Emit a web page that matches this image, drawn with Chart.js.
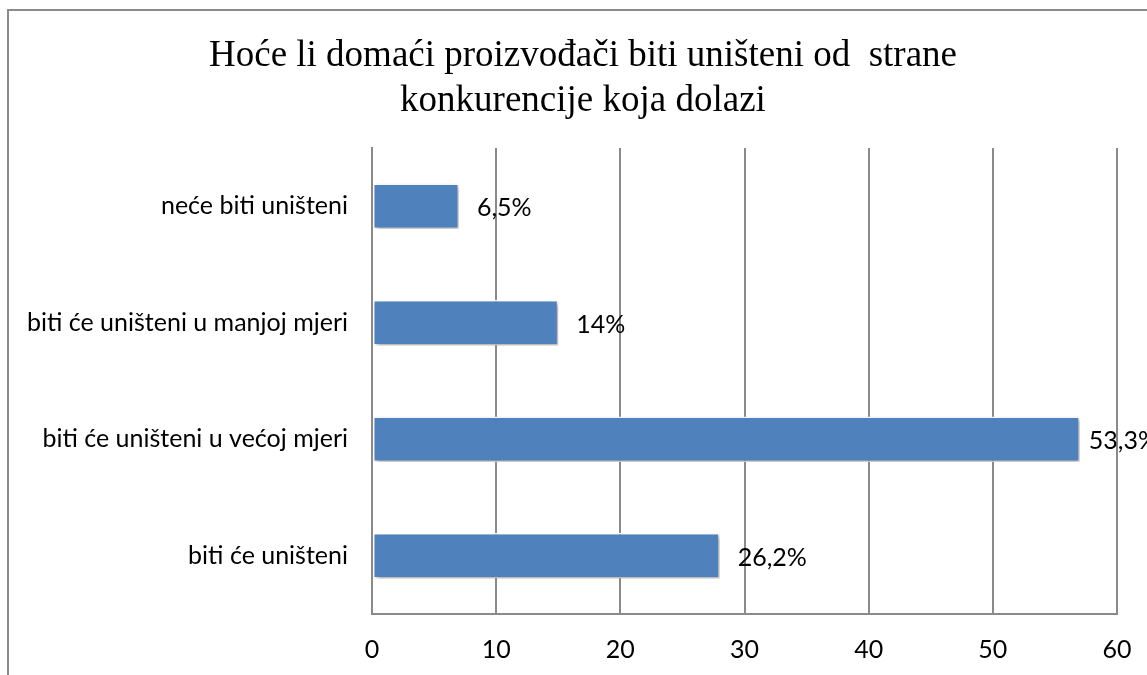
<!DOCTYPE html>
<html>
<head>
<meta charset="utf-8">
<script src="https://cdn.jsdelivr.net/npm/chart.js@4"></script>
<style>
  body { margin: 0; background: #fff; overflow: hidden; }
  #wrap { position: relative; width: 1147px; height: 675px; }
  #frame { position: absolute; left: 7px; top: 9px; width: 1200px; height: 700px; border: 2px solid #8a8a8a; }
  canvas { position: absolute; left: 0; top: 0; }
</style>
</head>
<body>
<div id="wrap">
  <div id="frame"></div>
  <canvas id="grafikon" width="1147" height="675"></canvas>
</div>
<script>
// podaci sa slike (broj ispitanika i postotak)
const kategorije = ['neće biti uništeni', 'biti će uništeni u manjoj mjeri', 'biti će uništeni u većoj mjeri', 'biti će uništeni'];
const vrijednosti = [7, 15, 57, 28];
const postoci = ['6,5%', '14%', '53,3%', '26,2%'];
const xTicks = [0, 10, 20, 30, 40, 50, 60];
const naslov = ['Hoće li domaći proizvođači biti uništeni od  strane', 'konkurencije koja dolazi'];

// naslov - centriran na sredinu okvira, ne grafa
const naslovPlugin = {
  id: 'naslovPlugin',
  afterDraw(chart) {
    const ctx = chart.ctx;
    ctx.save();
    ctx.font = '37px "Liberation Serif"';
    ctx.fillStyle = '#000';
    ctx.textAlign = 'center';
    ctx.textBaseline = 'middle';
    naslov.forEach((red, i) => ctx.fillText(red, 583, 56 + i * 45));
    ctx.restore();
  }
};

// sjena ispod stupaca
const sjena = {
  id: 'sjena',
  beforeDatasetsDraw(chart) {
    const ctx = chart.ctx;
    ctx.save();
    ctx.shadowColor = 'rgba(0,0,0,0.35)';
    ctx.shadowBlur = 4;
    ctx.shadowOffsetX = 2;
    ctx.shadowOffsetY = 2;
  },
  afterDatasetsDraw(chart) {
    chart.ctx.restore();
  }
};

// oznake s postocima pored stupaca
const oznake = {
  id: 'oznake',
  afterDatasetsDraw(chart) {
    const ctx = chart.ctx;
    const meta = chart.getDatasetMeta(0);
    ctx.save();
    ctx.font = '25px Lato';
    ctx.fillStyle = '#000';
    ctx.textBaseline = 'middle';
    meta.data.forEach((bar, i) => {
      const txt = postoci[i];
      let x = bar.x + 18;
      if (x + ctx.measureText(txt).width > chart.width) x = bar.x + 9;
      ctx.fillText(txt, x, bar.y + 2);
    });
    ctx.restore();
  }
};

new Chart(document.getElementById('grafikon').getContext('2d'), {
  type: 'bar',
  data: {
    labels: kategorije,
    datasets: [{
      data: vrijednosti,
      backgroundColor: '#4f81bd',
      borderColor: '#ffffff',
      borderWidth: 1.5,
      borderSkipped: false,
      categoryPercentage: 1,
      barPercentage: 0.39
    }]
  },
  options: {
    indexAxis: 'y',
    responsive: false,
    animation: false,
    layout: { padding: { top: 148, right: 30, left: 0, bottom: 0 } },
    plugins: {
      legend: { display: false },
      tooltip: { enabled: false },
      title: { display: false }
    },
    scales: {
      x: {
        min: 0,
        max: 60,
        afterBuildTicks(scale) { scale.ticks = xTicks.map(v => ({ value: v })); },
        afterFit(scale) {
          scale.height = 61;
          scale.paddingLeft = 0;
          scale.paddingRight = 0;
        },
        grid: { color: '#8a8a8a', lineWidth: 2, drawTicks: false },
        border: { color: '#8a8a8a', width: 2 },
        ticks: { color: '#000', padding: 21, font: { family: 'Lato', size: 25 } }
      },
      y: {
        afterFit(scale) { scale.width = 372; },
        grid: { display: false, drawTicks: false },
        border: { color: '#8a8a8a', width: 2 },
        ticks: { color: '#000', padding: 24, font: { family: 'Lato', size: 25 } }
      }
    }
  },
  plugins: [naslovPlugin, sjena, oznake]
});
</script>
</body>
</html>
